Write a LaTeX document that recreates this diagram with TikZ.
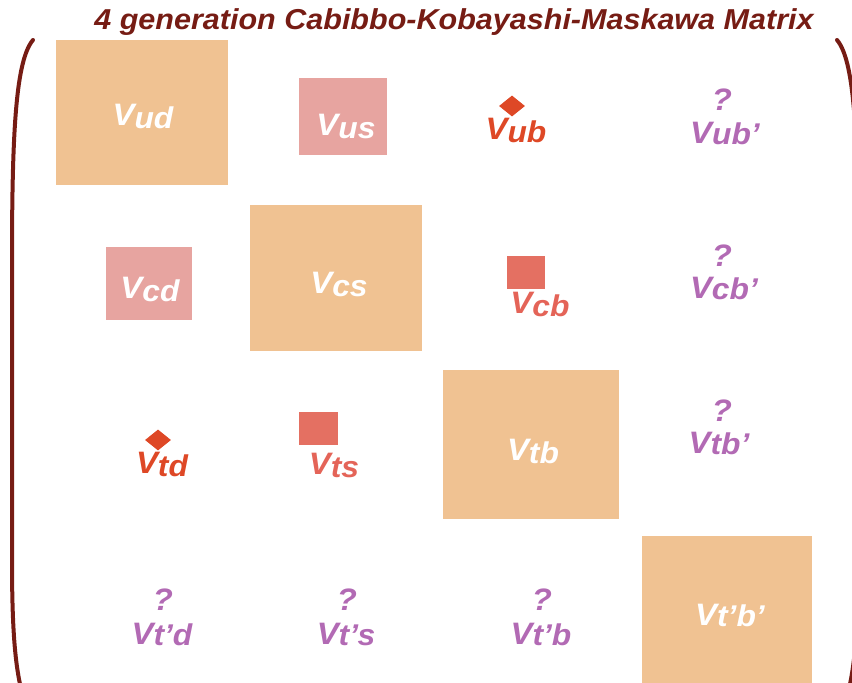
\documentclass[tikz,border=0pt]{standalone}
\usepackage{fontspec}
\setmainfont{Liberation Sans}[FakeStretch=1.06]
\usetikzlibrary{shapes.geometric}

\definecolor{tan}{RGB}{240,194,146}
\definecolor{rose}{RGB}{231,164,160}
\definecolor{salmon}{RGB}{228,112,98}
\definecolor{vermil}{RGB}{222,72,38}
\definecolor{salmontext}{RGB}{228,100,88}
\definecolor{mauve}{RGB}{178,106,180}
\definecolor{maroon}{RGB}{118,28,20}

% matrix element label: V with a slightly lowered index
\newcommand\ckm[1]{{\fontsize{31}{33}\selectfont V}\raisebox{-3pt}{\fontsize{30}{32}\selectfont #1}}
\newcommand\ckmp[1]{{\fontsize{31}{33}\selectfont V}\raisebox{-1pt}{\fontsize{30}{32}\selectfont #1}}

\tikzset{
  x=1pt, y=-1pt,
  cell/.style={anchor=north west, inner sep=0pt, draw=none},
  lbl/.style={anchor=base, inner sep=0pt, font=\bfseries\itshape},
  qmark/.style={anchor=base, inner sep=0pt, text=mauve, font=\bfseries\itshape\fontsize{31}{33}\selectfont},
  gem/.style={diamond, fill=vermil, inner sep=0pt, minimum width=26pt, minimum height=21pt},
  brk/.style={draw=maroon, line width=4pt, line cap=round},
}

\begin{document}
\begin{tikzpicture}
\useasboundingbox (0,0) rectangle (852,683);
\clip (0,0) rectangle (852,683);

% title
\node[anchor=base, inner sep=0pt, text=maroon, font=\bfseries\itshape\fontsize{28.8}{30}\selectfont] (title) at (454,29) {4 generation Cabibbo-Kobayashi-Maskawa Matrix};

% matrix brackets
\draw[brk] (33,40) .. controls (16,60) and (12,130) .. (12,260) -- (12,560) .. controls (12,630) and (15,670) .. (24,700);
\draw[brk] (837,40) .. controls (854,60) and (858,130) .. (858,260) -- (858,560) .. controls (858,630) and (855,670) .. (846,700);

% row u
\node[cell, fill=tan, minimum width=172pt, minimum height=145pt] (bud) at (56,40) {};
\node[lbl, text=white] (vud) at (143,125) {\ckm{ud}};
\node[cell, fill=rose, minimum width=88pt, minimum height=77pt] (bus) at (299,78) {};
\node[lbl, text=white] (vus) at (346,135) {\ckm{us}};
\node[gem] (dub) at (512,106) {};
\node[lbl, text=vermil] (vub) at (516,139) {\ckm{ub}};
\node[qmark] (qub) at (722,110) {?};
\node[lbl, text=mauve] (vubp) at (725,143) {\ckmp{ub’}};

% row c
\node[cell, fill=rose, minimum width=86pt, minimum height=73pt] (bcd) at (106,247) {};
\node[lbl, text=white] (vcd) at (150,298) {\ckm{cd}};
\node[cell, fill=tan, minimum width=172pt, minimum height=146pt] (bcs) at (250,205) {};
\node[lbl, text=white] (vcs) at (339,293) {\ckm{cs}};
\node[cell, fill=salmon, minimum width=38pt, minimum height=33pt] (scb) at (507,256) {};
\node[lbl, text=salmontext] (vcb) at (540,313) {\ckm{cb}};
\node[qmark] (qcb) at (722,266) {?};
\node[lbl, text=mauve] (vcbp) at (724,298) {\ckmp{cb’}};

% row t
\node[gem] (dtd) at (158,440) {};
\node[lbl, text=vermil] (vtd) at (162,473) {\ckm{td}};
\node[cell, fill=salmon, minimum width=39pt, minimum height=33pt] (sts) at (299,412) {};
\node[lbl, text=salmontext] (vts) at (334,474) {\ckm{ts}};
\node[cell, fill=tan, minimum width=176pt, minimum height=149pt] (btb) at (443,370) {};
\node[lbl, text=white] (vtb) at (533,460) {\ckm{tb}};
\node[qmark] (qtb) at (722,421) {?};
\node[lbl, text=mauve] (vtbp) at (719,453) {\ckmp{tb’}};

% row t'
\node[qmark] (qtd) at (163,610) {?};
\node[lbl, text=mauve] (vtpd) at (162,644) {\ckmp{t’d}};
\node[qmark] (qts) at (347,610) {?};
\node[lbl, text=mauve] (vtps) at (346,644) {\ckmp{t’s}};
\node[qmark] (qtpb) at (542,610) {?};
\node[lbl, text=mauve] (vtpb) at (541,644) {\ckmp{t’b}};
\node[cell, fill=tan, minimum width=170pt, minimum height=160pt] (btpbp) at (642,536) {};
\node[lbl, text=white] (vtpbp) at (730,625) {\ckmp{t’b’}};
\end{tikzpicture}
\end{document}
